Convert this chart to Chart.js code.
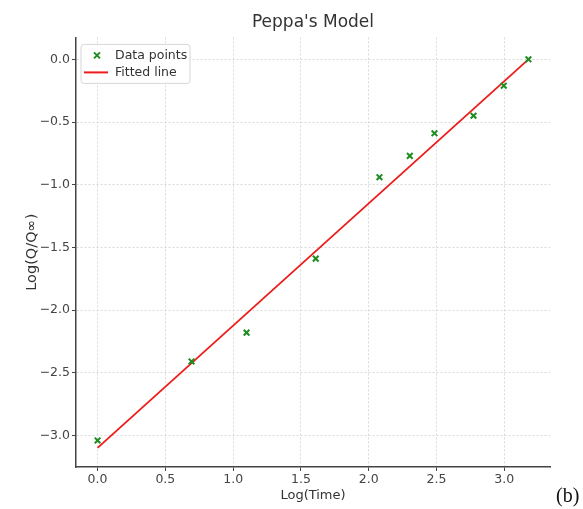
<!DOCTYPE html>
<html>
<head>
<meta charset="utf-8">
<script src="https://cdn.jsdelivr.net/npm/chart.js@4.4.1/dist/chart.umd.min.js"></script>
<style>
  html, body { margin: 0; padding: 0; background: #fff; }
  #wrap { position: relative; width: 583px; height: 509px; }
  #box { position: absolute; left: 0; top: 0; width: 583px; height: 509px; }
  #tag { position: absolute; left: 556px; top: 484px; font-family: "Liberation Serif", serif; font-size: 20px; color: #111; }
</style>
</head>
<body>
<div id="wrap">
  <div id="box"><canvas id="c"></canvas></div>
  <div id="tag">(b)</div>
</div>
<script>
// Data
const logTime = [0.0, 0.693, 1.099, 1.609, 2.079, 2.303, 2.485, 2.773, 2.996, 3.178];
const logQ = [-3.04, -2.41, -2.18, -1.59, -0.94, -0.77, -0.59, -0.45, -0.21, 0.0];
const fitX = [0.0, 3.178];
const fitY = [-3.10, 0.0];
const xTicks = [0.0, 0.5, 1.0, 1.5, 2.0, 2.5, 3.0];
const yTicks = [0.0, -0.5, -1.0, -1.5, -2.0, -2.5, -3.0];
const titleText = "Peppa's Model";
const xLabel = "Log(Time)";
const yLabel = "Log(Q/Q\u221E)";
const seriesNames = ["Data points", "Fitted line"];

const scatterData = logTime.map((x, i) => ({ x: x, y: logQ[i] }));
const fitData = fitX.map((x, i) => ({ x: x, y: fitY[i] }));

const fmt = v => (v < 0 ? '\u2212' : '') + Math.abs(v).toFixed(1);

// center the library title over the plot area
const titleCenter = {
  id: 'titleCenter',
  afterLayout(chart) {
    const t = chart.titleBlock, a = chart.chartArea;
    if (t && a) { t.left = a.left; t.right = a.right; t.width = a.right - a.left; }
  }
};

const legendPlugin = {
  id: 'innerLegend',
  afterDraw(chart) {
    const ctx = chart.ctx, a = chart.chartArea;
    const x0 = a.left + 5, y0 = a.top + 7, w = 109, h = 39;
    ctx.save();
    ctx.beginPath();
    if (ctx.roundRect) ctx.roundRect(x0, y0, w, h, 3); else ctx.rect(x0, y0, w, h);
    ctx.fillStyle = 'rgba(255,255,255,0.85)';
    ctx.fill();
    ctx.strokeStyle = '#d6d6d6';
    ctx.lineWidth = 1;
    ctx.stroke();
    const ds0 = chart.data.datasets[0], ds1 = chart.data.datasets[1];
    const mx = x0 + 16, my = y0 + 11;
    ctx.strokeStyle = ds0.borderColor; ctx.lineWidth = 2;
    ctx.beginPath();
    ctx.moveTo(mx - 3, my - 3); ctx.lineTo(mx + 3, my + 3);
    ctx.moveTo(mx - 3, my + 3); ctx.lineTo(mx + 3, my - 3);
    ctx.stroke();
    const ly = y0 + 28;
    ctx.strokeStyle = ds1.borderColor; ctx.lineWidth = 2;
    ctx.beginPath(); ctx.moveTo(x0 + 3, ly); ctx.lineTo(x0 + 27, ly); ctx.stroke();
    ctx.fillStyle = '#333';
    ctx.font = '12.5px "DejaVu Sans", sans-serif';
    ctx.textBaseline = 'middle';
    ctx.fillText(ds0.label, x0 + 34, my);
    ctx.fillText(ds1.label, x0 + 34, ly);
    ctx.restore();
  }
};

const gridOpts = {
  color: '#d9d9d9',
  lineWidth: 1,
  tickLength: 4,
  tickColor: '#444',
  tickBorderDash: [],
  tickWidth: 1
};
const borderOpts = { display: true, color: '#444', width: 1.5, dash: [2, 2] };

new Chart(document.getElementById('c'), {
  type: 'scatter',
  data: {
    datasets: [
      {
        label: seriesNames[0],
        data: scatterData,
        pointStyle: 'crossRot',
        pointRadius: 4,
        pointHoverRadius: 4,
        borderWidth: 2,
        borderColor: '#1f8c1f',
        backgroundColor: '#1f8c1f',
        showLine: false,
        order: 1
      },
      {
        label: seriesNames[1],
        data: fitData,
        showLine: true,
        pointRadius: 0,
        borderColor: '#ee1b1b',
        borderWidth: 1.8,
        fill: false,
        order: 2
      }
    ]
  },
  options: {
    responsive: true,
    maintainAspectRatio: false,
    animation: false,
    events: [],
    layout: { padding: { left: 0, right: 33, top: 0, bottom: 0 } },
    plugins: {
      legend: { display: false },
      tooltip: { enabled: false },
      title: {
        display: true,
        text: titleText,
        color: '#333',
        font: { family: '"DejaVu Sans", sans-serif', size: 17, weight: 'normal' },
        padding: { top: 12, bottom: 5 }
      }
    },
    scales: {
      x: {
        type: 'linear',
        min: -0.159,
        max: 3.337,
        afterFit(s) { s.height = 42; },
        afterBuildTicks(s) { s.ticks = xTicks.map(v => ({ value: v })); },
        ticks: {
          includeBounds: false,
          color: '#444',
          padding: 1,
          maxRotation: 0,
          font: { family: '"DejaVu Sans", sans-serif', size: 12.5 },
          callback: v => fmt(v)
        },
        grid: gridOpts,
        border: borderOpts,
        title: {
          display: true,
          text: xLabel,
          color: '#333',
          font: { family: '"DejaVu Sans", sans-serif', size: 13 },
          padding: { top: 0, bottom: 6 }
        }
      },
      y: {
        type: 'linear',
        min: -3.252,
        max: 0.175,
        afterFit(s) { s.width = 76; },
        afterBuildTicks(s) { s.ticks = yTicks.map(v => ({ value: v })); },
        ticks: {
          includeBounds: false,
          color: '#444',
          padding: 2,
          font: { family: '"DejaVu Sans", sans-serif', size: 12.5 },
          callback: v => fmt(v)
        },
        grid: gridOpts,
        border: borderOpts,
        title: {
          display: true,
          text: yLabel,
          color: '#333',
          font: { family: '"DejaVu Sans", sans-serif', size: 14.5 },
          padding: { top: 24, bottom: 0 }
        }
      }
    }
  },
  plugins: [titleCenter, legendPlugin]
});
</script>
</body>
</html>
